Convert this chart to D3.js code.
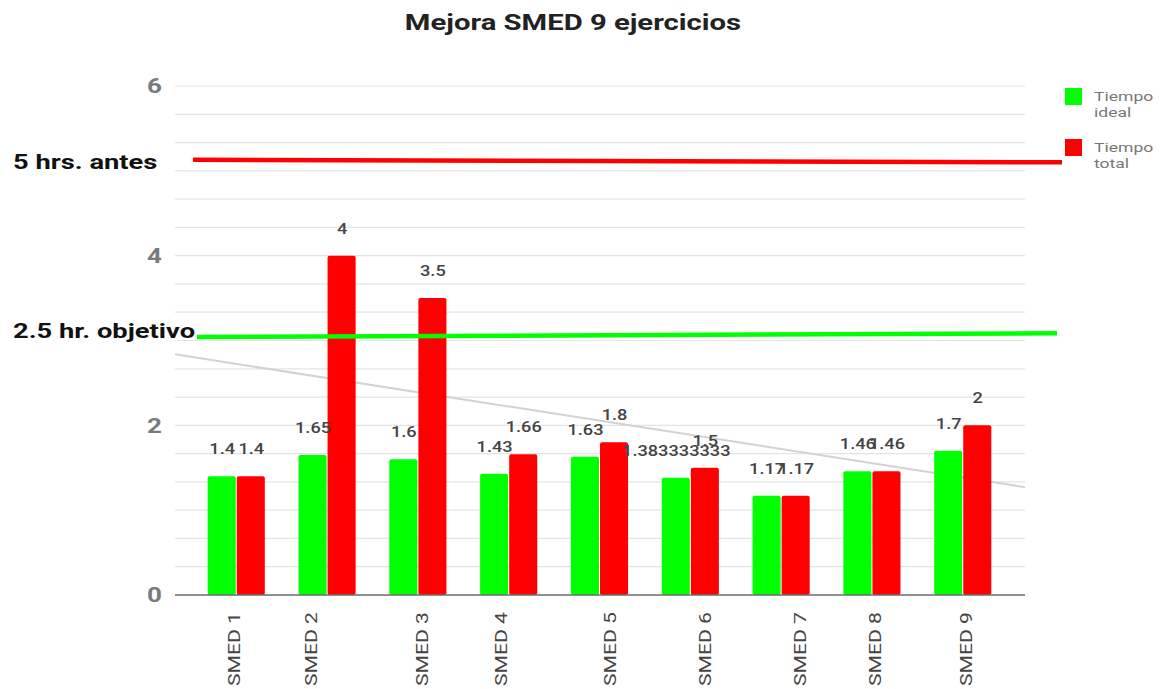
<!DOCTYPE html>
<html>
<head>
<meta charset="utf-8">
<script src="https://cdn.jsdelivr.net/npm/d3@7"></script>
<style>
  body { margin: 0; background: #fff; }
  text { font-family: Roboto, "Liberation Sans", Arial, sans-serif; }
</style>
</head>
<body>
<script>
const width = 1161;
const height = 689;

// data
const categories = ["SMED 1", "SMED 2", "SMED 3", "SMED 4", "SMED 5", "SMED 6", "SMED 7", "SMED 8", "SMED 9"];
const ideal = [1.4, 1.65, 1.6, 1.43, 1.63, 1.383333333, 1.17, 1.46, 1.7];
const total = [1.4, 4, 3.5, 1.66, 1.8, 1.5, 1.17, 1.46, 2];
const yTicks = [0, 2, 4, 6];
const seriesNames = ["Tiempo ideal", "Tiempo total"];
// hand drawn reference lines (value at left end, value at right end)
const refLabels = ["5 hrs. antes", "2.5 hr. objetivo"];
const refValues = [[5.13, 5.1], [3.04, 3.085]];

// layout bits
const colors = ["#00ff00", "#ff0000"];
const labelNudge = [-3, -16, 4, -8, 10, 14, 19, 3, 3]; // x labels sit off-centre in the original
const refX = [[193, 1062], [197, 1057]];
const stretch = 1.3; // the original picture is squashed wide

const plot = {left: 175, right: 1025, top: 86, bottom: 595};

const svg = d3.select('body').append('svg')
    .attr('width', width)
    .attr('height', height);

const x = d3.scaleBand()
    .domain(categories)
    .range([plot.left, plot.right])
    .paddingInner(0.36)
    .paddingOuter(0.36);

const xs = d3.scaleBand()
    .domain([0, 1])
    .range([0, x.bandwidth()]);

const y = d3.scaleLinear()
    .domain([0, 6])
    .range([plot.bottom, plot.top]);

// gridlines every 1/3
const grid = d3.range(1, 19).map(i => i / 3);
svg.append('g').selectAll('line')
    .data(grid)
    .enter().append('line')
    .attr('x1', plot.left)
    .attr('x2', plot.right)
    .attr('y1', d => y(d))
    .attr('y2', d => y(d))
    .attr('stroke', '#e4e4e4')
    .attr('stroke-width', 1.2);

// y tick labels
svg.append('g').selectAll('text')
    .data(yTicks)
    .enter().append('text')
    .attr('class', 'wide')
    .attr('x', 162)
    .attr('y', d => y(d))
    .attr('dy', '0.36em')
    .attr('text-anchor', 'end')
    .attr('font-size', 20)
    .attr('font-weight', 'bold')
    .attr('fill', '#7a7a7a')
    .text(d => d);

// trend line of total series (linear regression)
const xm = d3.mean(total, (d, i) => i + 1);
const ym = d3.mean(total);
const slope = d3.sum(total, (d, i) => (i + 1 - xm) * (d - ym)) / d3.sum(total, (d, i) => (i + 1 - xm) ** 2);
const trend = t => ym + slope * (t - xm);
const xIndex = px => (px - (x(categories[0]) + x.bandwidth() / 2)) / x.step() + 1;
svg.append('line')
    .attr('x1', plot.left)
    .attr('x2', plot.right)
    .attr('y1', y(trend(xIndex(plot.left))))
    .attr('y2', y(trend(xIndex(plot.right))))
    .attr('stroke', '#d2d2d2')
    .attr('stroke-width', 2);

// bars
const groups = svg.append('g').selectAll('g')
    .data(categories)
    .enter().append('g')
    .attr('transform', d => `translate(${x(d)},0)`);

groups.selectAll('rect')
    .data((d, i) => [ideal[i], total[i]])
    .enter().append('rect')
    .attr('x', (d, j) => xs(j))
    .attr('width', xs.bandwidth() - 1)
    .attr('y', d => y(d))
    .attr('height', d => y(0) - y(d))
    .attr('rx', 2)
    .attr('fill', (d, j) => colors[j]);

// value labels
groups.selectAll('text')
    .data((d, i) => [ideal[i], total[i]])
    .enter().append('text')
    .attr('class', 'wide')
    .attr('x', (d, j) => xs(j) + xs.bandwidth() / 2)
    .attr('y', d => y(d) - 22)
    .attr('text-anchor', 'middle')
    .attr('font-size', 14)
    .attr('font-weight', 500)
    .attr('fill', '#444')
    .text(d => d3.format('.10~g')(d));

// baseline
svg.append('line')
    .attr('x1', plot.left)
    .attr('x2', plot.right)
    .attr('y1', y(0))
    .attr('y2', y(0))
    .attr('stroke', '#6b6b6b')
    .attr('stroke-width', 1.5);

// x labels
svg.append('g').selectAll('text')
    .data(categories)
    .enter().append('text')
    .attr('transform', (d, i) => `translate(${x(d) + x.bandwidth() / 2 + labelNudge[i]},612) rotate(-90)`)
    .attr('dy', '0.36em')
    .attr('text-anchor', 'end')
    .attr('font-size', 16)
    .attr('textLength', 74)
    .attr('lengthAdjust', 'spacingAndGlyphs')
    .attr('fill', '#444')
    .text(d => d);

// reference lines + their labels
refValues.forEach((v, i) => {
    svg.append('line')
        .attr('x1', refX[i][0])
        .attr('x2', refX[i][1])
        .attr('y1', y(v[0]))
        .attr('y2', y(v[1]))
        .attr('stroke', colors[1 - i])
        .attr('stroke-width', 4.5);
    svg.append('text')
        .attr('class', 'wide')
        .attr('x', 13)
        .attr('y', i === 0 ? 169 : 338)
        .attr('font-size', 21)
        .attr('font-weight', 'bold')
        .attr('fill', '#111')
        .text(refLabels[i]);
});

// legend
const legend = svg.append('g').selectAll('g')
    .data(seriesNames)
    .enter().append('g')
    .attr('transform', (d, i) => `translate(1065,${88 + i * 51})`);

legend.append('rect')
    .attr('width', 17)
    .attr('height', 17)
    .attr('fill', (d, i) => colors[i]);

legend.append('text')
    .attr('x', 29)
    .attr('y', 13)
    .attr('font-size', 13.5)
    .attr('fill', '#777')
    .selectAll('tspan')
    .data(d => d.split(' '))
    .enter().append('tspan')
    .attr('class', 'wide')
    .attr('x', 29)
    .attr('dy', (d, i) => i ? 16 : 0)
    .text(d => d);

// title
svg.append('text')
    .attr('class', 'wide')
    .attr('x', 573)
    .attr('y', 30)
    .attr('text-anchor', 'middle')
    .attr('font-size', 22.5)
    .attr('font-weight', 'bold')
    .attr('fill', '#222')
    .text('Mejora SMED 9 ejercicios');

// widen texts to match the original's aspect
svg.selectAll('.wide').each(function() {
    const len = this.getComputedTextLength();
    d3.select(this)
        .attr('textLength', len * stretch)
        .attr('lengthAdjust', 'spacingAndGlyphs');
});
</script>
</body>
</html>
